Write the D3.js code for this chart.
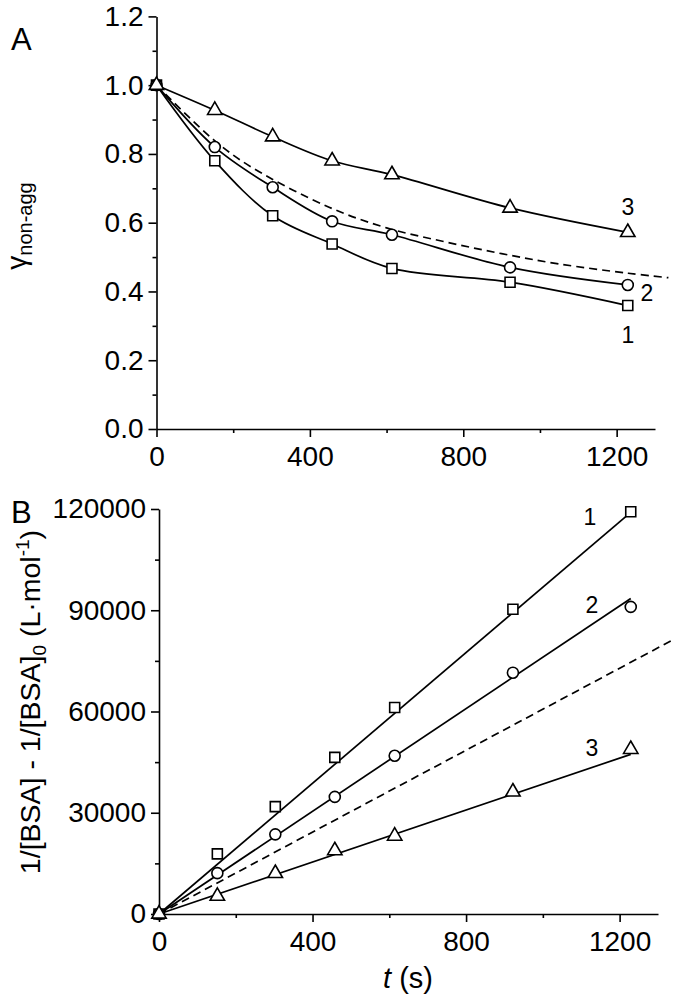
<!DOCTYPE html>
<html><head><meta charset="utf-8">
<script src="https://cdn.jsdelivr.net/npm/d3@7"></script>
<style>
body{margin:0;background:#fff}
svg{display:block}
text{font-family:"Liberation Sans",Arial,sans-serif;fill:#000}
</style>
</head><body><svg id="c" width="675" height="996"></svg>
<script>
// ---- data ----
const time = [0, 152, 303, 458, 614, 922, 1229];
// Panel A: fraction of non-aggregated protein
const gammaSq = [1.0, 0.78, 0.62, 0.538, 0.467, 0.427, 0.359];
const gammaCi = [1.0, 0.82, 0.703, 0.604, 0.565, 0.47, 0.419];
const gammaTr = [1.0, 0.927, 0.85, 0.78, 0.74, 0.643, 0.572];
const dashedATime = [0, 150, 250, 450, 600, 750, 900, 1050, 1230, 1335];
const dashedAVal  = [1.0, 0.84, 0.76, 0.645, 0.585, 0.545, 0.51, 0.48, 0.453, 0.44];
// Panel B: 1/[BSA] - 1/[BSA]0
const invSq = [0, 17800, 31800, 46400, 61200, 90300, 119200];
const invCi = [0, 12100, 23600, 34700, 46900, 71500, 91000];
const invTr = [0, 5300, 12050, 18800, 23100, 36200, 48800];
const fitTime = [0, 1229];
const fitSq = [0, 119000];
const fitCi = [0, 93500];
const fitTr = [0, 47300];
const dashedBTime = [0, 1335];
const dashedBVal = [0, 81000];
// ticks
const xMajor = [0, 400, 800, 1200];
const xMinor = [200, 600, 1000];
const yMajorA = [0, 0.2, 0.4, 0.6, 0.8, 1.0, 1.2];
const yMinorA = [0.1, 0.3, 0.5, 0.7, 0.9, 1.1];
const yMajorB = [0, 30000, 60000, 90000, 120000];
const yMinorB = [15000, 45000, 75000, 105000];
const curveLabels = ["1", "2", "3"];

const svg = d3.select("#c");
const FONT = "'Liberation Sans', Arial, sans-serif";
const SW = 1.7;

function zip(xs, ys){ return xs.map((x,i)=>[x, ys[i]]); }

function drawAxes(g, x, y, yMajor, yMinor, yFmt, xAxisY, yAxisX){
  g.append("g").attr("transform", `translate(0,${xAxisY})`)
    .call(d3.axisBottom(x).tickValues(xMajor).tickSize(8).tickSizeOuter(0).tickPadding(9).tickFormat(d3.format("d")));
  g.append("g").attr("transform", `translate(0,${xAxisY})`)
    .call(d3.axisBottom(x).tickValues(xMinor).tickSize(4).tickSizeOuter(0).tickFormat(""))
    .select(".domain").remove();
  g.append("g").attr("transform", `translate(${yAxisX},0)`)
    .call(d3.axisLeft(y).tickValues(yMajor).tickSize(8).tickSizeOuter(0).tickPadding(5).tickFormat(yFmt));
  g.append("g").attr("transform", `translate(${yAxisX},0)`)
    .call(d3.axisLeft(y).tickValues(yMinor).tickSize(4).tickSizeOuter(0).tickFormat(""))
    .select(".domain").remove();
  g.selectAll(".domain, .tick line").attr("stroke", "#000").attr("stroke-width", 1.6);
  g.selectAll(".tick text").attr("font-size", 28).attr("font-family", FONT).attr("fill", "#000");
}

function drawMarkers(g, x, y, xs, ys, type){
  const sym = d3.symbol().type(type === "sq" ? d3.symbolSquare : type === "ci" ? d3.symbolCircle : d3.symbolTriangle)
    .size(type === "sq" ? 100 : type === "ci" ? 95 : 90);
  g.selectAll(null).data(zip(xs, ys)).join("path")
    .attr("d", sym)
    .attr("transform", d => `translate(${x(d[0])},${y(d[1])})`)
    .attr("fill", "#fff").attr("stroke", "#000").attr("stroke-width", 1.6);
}

// ---------- Panel A ----------
const xA = d3.scaleLinear().domain([0, 1300]).range([156.5, 655]);
const yA = d3.scaleLinear().domain([0, 1.2]).range([429, 16.4]);
const gA = svg.append("g");
drawAxes(gA, xA, yA, yMajorA, yMinorA, d3.format(".1f"), 429, 156.5);

const lineA = d3.line().x(d => xA(d[0])).y(d => yA(d[1])).curve(d3.curveCatmullRom.alpha(0.5));
gA.append("path").attr("d", lineA(zip(dashedATime, dashedAVal)))
  .attr("fill", "none").attr("stroke", "#000").attr("stroke-width", SW).attr("stroke-dasharray", "8,5");
[gammaSq, gammaCi, gammaTr].forEach(s => {
  gA.append("path").attr("d", lineA(zip(time, s)))
    .attr("fill", "none").attr("stroke", "#000").attr("stroke-width", SW);
});
drawMarkers(gA, xA, yA, time, gammaSq, "sq");
drawMarkers(gA, xA, yA, time, gammaCi, "ci");
drawMarkers(gA, xA, yA, time, gammaTr, "tr");

gA.append("text").attr("x", 11).attr("y", 50).attr("font-size", 31).text("A");
// y label A
const ylA = gA.append("text").attr("transform", "translate(26,226) rotate(-90)")
  .attr("text-anchor", "middle").attr("font-size", 28);
ylA.append("tspan").text("γ");
ylA.append("tspan").attr("font-size", 20).attr("dy", 6).text("non-agg");
// curve labels A
gA.selectAll(null).data(curveLabels).join("text")
  .attr("x", (d, i) => i === 1 ? 647 : 628)
  .attr("y", (d, i) => i === 0 ? 335 : i === 1 ? 293 : 207)
  .attr("dy", "0.35em").attr("text-anchor", "middle").attr("font-size", 23).text(d => d);

// ---------- Panel B ----------
const xB = d3.scaleLinear().domain([0, 1300]).range([159, 658]);
const yB = d3.scaleLinear().domain([0, 120000]).range([914, 509]);
const gB = svg.append("g");
drawAxes(gB, xB, yB, yMajorB, yMinorB, d3.format("d"), 914, 159);

const lineB = d3.line().x(d => xB(d[0])).y(d => yB(d[1]));
gB.append("path").attr("d", lineB(zip(dashedBTime, dashedBVal)))
  .attr("fill", "none").attr("stroke", "#000").attr("stroke-width", SW).attr("stroke-dasharray", "8,5");
[fitSq, fitCi, fitTr].forEach(s => {
  gB.append("path").attr("d", lineB(zip(fitTime, s)))
    .attr("fill", "none").attr("stroke", "#000").attr("stroke-width", SW);
});
drawMarkers(gB, xB, yB, time, invSq, "sq");
drawMarkers(gB, xB, yB, time, invCi, "ci");
drawMarkers(gB, xB, yB, time, invTr, "tr");

gB.append("text").attr("x", 11).attr("y", 523).attr("font-size", 31).text("B");
const ylB = gB.append("text").attr("transform", "translate(40,702) rotate(-90)")
  .attr("text-anchor", "middle").attr("font-size", 28.5);
ylB.append("tspan").text("1/[BSA] - 1/[BSA]");
ylB.append("tspan").attr("font-size", 19).attr("dy", 6).text("0");
ylB.append("tspan").attr("dy", -6).text(" (L·mol");
ylB.append("tspan").attr("font-size", 19).attr("dy", -11).text("-1");
ylB.append("tspan").attr("dy", 11).text(")");

gB.selectAll(null).data(curveLabels).join("text")
  .attr("x", (d, i) => i === 0 ? 590 : 592)
  .attr("y", (d, i) => i === 0 ? 517 : i === 1 ? 605 : 748)
  .attr("dy", "0.35em").attr("text-anchor", "middle").attr("font-size", 23).text(d => d);

const xl = gB.append("text").attr("x", 408).attr("y", 988).attr("text-anchor", "middle").attr("font-size", 29);
xl.append("tspan").attr("font-style", "italic").text("t");
xl.append("tspan").text(" (s)");
</script>
</body></html>
